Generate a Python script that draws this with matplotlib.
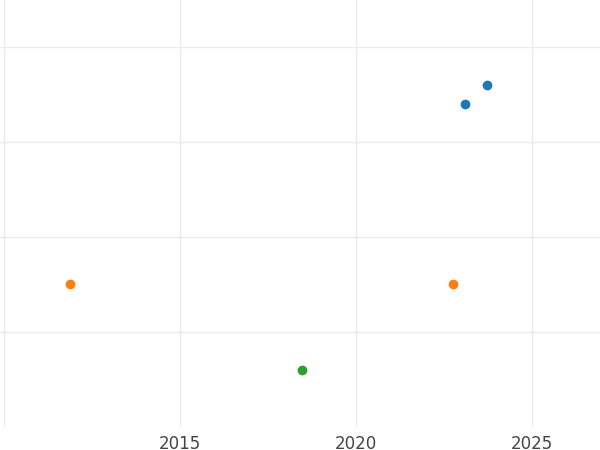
import matplotlib
matplotlib.use("Agg")
import matplotlib.pyplot as plt

# Data
blue_x = [2023.1, 2023.72]
blue_y = [3.4, 3.6]
orange_x = [2011.87, 2022.76]
orange_y = [1.5, 1.5]
green_x = [2018.47]
green_y = [0.6]

plt.rcParams["font.family"] = ["DejaVu Sans"]

fig = plt.figure(figsize=(6, 4.5), dpi=100)
ax = fig.add_axes([0, 23 / 450, 1, 1 - 23 / 450])

ax.scatter(blue_x, blue_y, color="#1f77b4", s=36, zorder=3)
ax.scatter(orange_x, orange_y, color="#ff7f0e", s=36, zorder=3)
ax.scatter(green_x, green_y, color="#2ca02c", s=36, zorder=3)

ax.set_xlim(2009.89, 2026.93)
ax.set_ylim(0, 4.49)
ax.set_xticks([2010, 2015, 2020, 2025])
ax.set_xticklabels(["", "2015", "2020", "2025"])
ax.set_yticks([1, 2, 3, 4])
ax.set_yticklabels([])
ax.tick_params(length=0, labelsize=12, colors="#444444", pad=6)
ax.grid(True, color="#ebebeb", linewidth=1)
ax.set_axisbelow(True)
for s in ax.spines.values():
    s.set_visible(False)

fig.savefig("out.png", dpi=100)
